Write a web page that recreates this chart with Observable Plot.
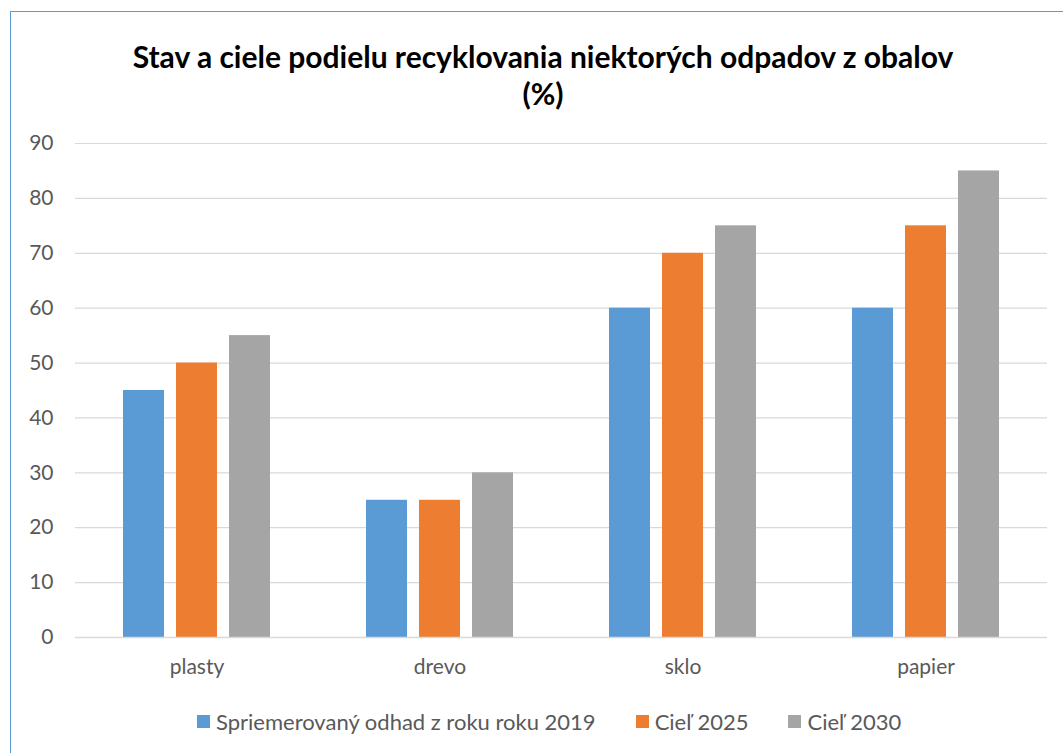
<!DOCTYPE html>
<html><head><meta charset="utf-8">
<script src="https://cdn.jsdelivr.net/npm/d3@7"></script>
<script src="https://cdn.jsdelivr.net/npm/@observablehq/plot@0.6"></script>
<style>
body{margin:0;background:#fff;font-family:Lato,sans-serif;overflow:hidden;}
#frame{position:absolute;left:10px;top:11px;width:1080px;height:780px;border-left:1.5px solid #5b9bd5;border-top:1.5px solid #5b9bd5;box-sizing:border-box;}
#chart{position:absolute;left:0;top:0;}
#title{position:absolute;left:0;top:38px;width:1086px;text-align:center;font-weight:bold;font-size:30px;line-height:37px;color:#000;}
#legend{position:absolute;left:197px;top:708px;display:flex;align-items:center;font-size:22px;color:#595959;white-space:nowrap;}
.item{display:flex;align-items:center;margin-right:40px;}
.sw{width:13px;height:13px;margin-right:6px;}
</style>
</head><body>
<div id="frame"></div>
<div id="chart"></div>
<div id="title">Stav a ciele podielu recyklovania niektorých odpadov z obalov<br>(%)</div>
<div id="legend"></div>
<script>
const categories = ["plasty", "drevo", "sklo", "papier"];
const series = ["Spriemerovaný odhad z roku roku 2019", "Cieľ 2025", "Cieľ 2030"];
const values2019 = [45, 25, 60, 60];
const values2025 = [50, 25, 70, 75];
const values2030 = [55, 30, 75, 85];
const colors = ["#5b9bd5", "#ed7d31", "#a5a5a5"];
const yTicks = [0, 10, 20, 30, 40, 50, 60, 70, 80, 90];

const allValues = [values2019, values2025, values2030];
const data = categories.flatMap((c, i) => series.map((s, j) => ({cat: c, s, v: allValues[j][i]})));

const chart = Plot.plot({
  width: 1063,
  height: 753,
  marginLeft: 74,
  marginRight: 16,
  marginTop: 143,
  marginBottom: 116,
  style: {fontFamily: "Lato, sans-serif", fontSize: "21px", color: "#595959", background: "transparent"},
  fx: {domain: categories, padding: 0, label: null},
  x: {domain: series, paddingInner: 0.222, paddingOuter: 0.863, axis: null},
  y: {domain: [0, 90], ticks: yTicks, label: null},
  color: {domain: series, range: colors},
  marks: [
    Plot.gridY(yTicks, {stroke: "#d9d9d9", strokeOpacity: 1, strokeWidth: 1.2}),
    Plot.barY(data, {fx: "cat", x: "s", y: "v", fill: "s"}),
    Plot.ruleY([0], {stroke: "#d9d9d9", strokeWidth: 1.5}),
    Plot.axisY(yTicks, {tickSize: 0, tickPadding: 22, fontSize: 21, fill: "#595959", label: null}),
    Plot.axisFx({anchor: "bottom", tickSize: 0, tickPadding: 22, fontSize: 21, fill: "#595959", label: null})
  ]
});
document.getElementById("chart").appendChild(chart);

const legend = document.getElementById("legend");
series.forEach((s, i) => {
  const it = document.createElement("div");
  it.className = "item";
  const sw = document.createElement("div");
  sw.className = "sw";
  sw.style.background = colors[i];
  const t = document.createElement("span");
  t.textContent = s;
  it.appendChild(sw); it.appendChild(t);
  legend.appendChild(it);
});
</script>
</body></html>
